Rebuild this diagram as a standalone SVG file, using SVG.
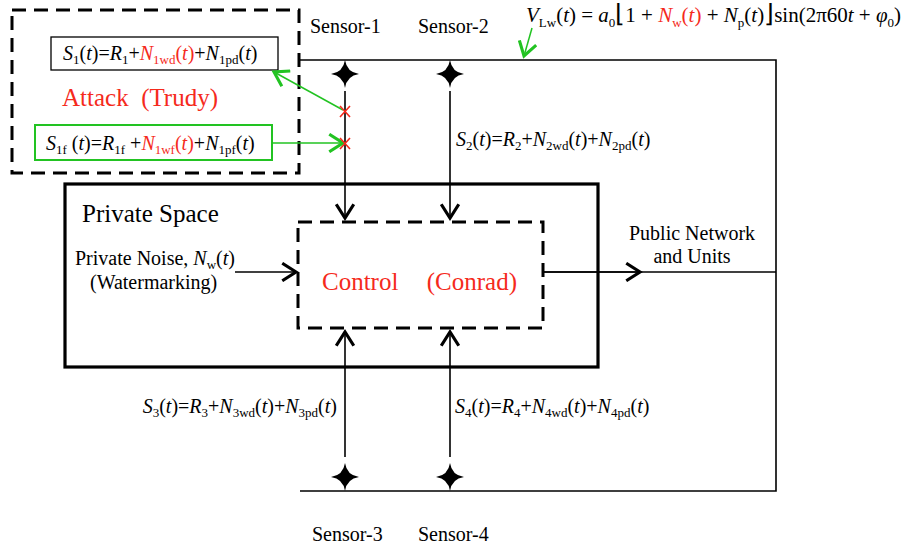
<svg xmlns="http://www.w3.org/2000/svg" width="919" height="552" viewBox="0 0 919 552">
<style>
.t{font-family:"Liberation Serif","Times New Roman",serif;font-size:20px;fill:#000}
.i{font-style:italic}
.r{fill:#f52a1c}
.s{font-size:13px}
.ln{stroke:#000;stroke-width:1.6;fill:none}
.dash{stroke:#000;stroke-width:3;fill:none;stroke-dasharray:14 8}
.g{stroke:#22c322;fill:none}
.x{stroke:#f52a1c;stroke-width:1.6}
.star{fill:#000}
.br{font-size:25px}
</style>
<defs>
<marker id="ah" markerUnits="userSpaceOnUse" markerWidth="20" markerHeight="20" viewBox="-12 -8 14 16" refX="0" refY="0" orient="auto">
<path d="M-11,-7 L0,0 L-11,7" fill="none" stroke="#000" stroke-width="2.5"/>
</marker>
<marker id="gh" markerUnits="userSpaceOnUse" markerWidth="20" markerHeight="20" viewBox="-12 -8 14 16" refX="0" refY="0" orient="auto">
<path d="M-11,-7 L0,0 L-11,7" fill="none" stroke="#22c322" stroke-width="2.5"/>
</marker>
<path id="st" d="M0,-14 Q1.8,-1.8 14,0 Q1.8,1.8 0,14 Q-1.8,1.8 -14,0 Q-1.8,-1.8 0,-14Z"/>
</defs>

<g id="attack">
<rect x="12" y="10" width="287" height="163" class="dash"/>
<text class="t r" x="62" y="106" style="font-size:25px" xml:space="preserve">Attack  (Trudy)</text>
</g>

<g id="s1box">
<rect x="51" y="37" width="227" height="33" fill="none" stroke="#000" stroke-width="1.3"/>
<text class="t" x="63" y="60"><tspan class="i">S</tspan><tspan class="s" dy="4">1</tspan><tspan dy="-4">(</tspan><tspan class="i">t</tspan>)=<tspan class="i">R</tspan><tspan class="s" dy="4">1</tspan><tspan dy="-4">+</tspan><tspan class="i r">N</tspan><tspan class="s r" dy="4">1wd</tspan><tspan class="r" dy="-4">(</tspan><tspan class="i r">t</tspan><tspan class="r">)</tspan>+<tspan class="i">N</tspan><tspan class="s" dy="4">1pd</tspan><tspan dy="-4">(</tspan><tspan class="i">t</tspan>)</text>
</g>

<g id="s1fbox">
<rect x="35" y="125" width="237" height="35" fill="none" stroke="#22c322" stroke-width="2"/>
<text class="t" x="46" y="150"><tspan class="i">S</tspan><tspan class="s" dy="4">1f</tspan><tspan dy="-4"> (</tspan><tspan class="i">t</tspan>)=<tspan class="i">R</tspan><tspan class="s" dy="4">1f</tspan><tspan dy="-4"> +</tspan><tspan class="i r">N</tspan><tspan class="s r" dy="4">1wf</tspan><tspan class="r" dy="-4">(</tspan><tspan class="i r">t</tspan><tspan class="r">)</tspan>+<tspan class="i">N</tspan><tspan class="s" dy="4">1pf</tspan><tspan dy="-4">(</tspan><tspan class="i">t</tspan>)</text>
</g>

<g id="sensor1">
<text class="t" x="310" y="33">Sensor-1</text>
<use href="#st" x="345" y="74" class="star"/>
</g>
<g id="sensor2">
<text class="t" x="418" y="33">Sensor-2</text>
<use href="#st" x="450" y="74" class="star"/>
</g>
<g id="sensor3">
<text class="t" x="312" y="541">Sensor-3</text>
<use href="#st" x="345" y="477" class="star"/>
</g>
<g id="sensor4">
<text class="t" x="418" y="541">Sensor-4</text>
<use href="#st" x="450" y="477" class="star"/>
</g>

<g id="formula">
<text class="t" x="526" y="22" style="font-size:21px"><tspan class="i">V</tspan><tspan class="s" dy="5">Lw</tspan><tspan dy="-5">(</tspan><tspan class="i">t</tspan>) = <tspan class="i">a</tspan><tspan class="s" dy="5">0</tspan><tspan class="br" dy="-5">⌊</tspan><tspan>1 + </tspan><tspan class="i r">N</tspan><tspan class="s r" dy="5">w</tspan><tspan class="r" dy="-5">(</tspan><tspan class="i r">t</tspan><tspan class="r">)</tspan> + <tspan class="i">N</tspan><tspan class="s" dy="5">p</tspan><tspan dy="-5">(</tspan><tspan class="i">t</tspan>)<tspan class="br">⌋</tspan>sin(2π60<tspan class="i">t</tspan> + <tspan class="i">φ</tspan><tspan class="s" dy="5">0</tspan><tspan dy="-5">)</tspan></text>
</g>

<g id="private">
<rect x="65" y="184" width="533" height="183" fill="none" stroke="#000" stroke-width="3.2"/>
<text class="t" x="82" y="222" style="font-size:25px">Private Space</text>
<text class="t" x="75" y="265">Private Noise, <tspan class="i">N</tspan><tspan class="s" dy="4">w</tspan><tspan dy="-4">(</tspan><tspan class="i">t</tspan>)</text>
<text class="t" x="90" y="289">(Watermarking)</text>
</g>

<g id="control">
<rect x="298" y="222" width="245" height="106" class="dash" stroke-dasharray="12 7"/>
<text class="t r" x="322" y="290" style="font-size:25px">Control</text>
<text class="t r" x="517" y="290" text-anchor="end" style="font-size:25px">(Conrad)</text>
</g>

<g id="public">
<text class="t" x="692" y="240" text-anchor="middle">Public Network</text>
<text class="t" x="692" y="263" text-anchor="middle">and Units</text>
</g>

<g id="labels">
<text class="t" x="456" y="146"><tspan class="i">S</tspan><tspan class="s" dy="4">2</tspan><tspan dy="-4">(</tspan><tspan class="i">t</tspan>)=<tspan class="i">R</tspan><tspan class="s" dy="4">2</tspan><tspan dy="-4">+</tspan><tspan class="i">N</tspan><tspan class="s" dy="4">2wd</tspan><tspan dy="-4">(</tspan><tspan class="i">t</tspan>)+<tspan class="i">N</tspan><tspan class="s" dy="4">2pd</tspan><tspan dy="-4">(</tspan><tspan class="i">t</tspan>)</text>
<text class="t" x="337" y="413" text-anchor="end"><tspan class="i">S</tspan><tspan class="s" dy="4">3</tspan><tspan dy="-4">(</tspan><tspan class="i">t</tspan>)=<tspan class="i">R</tspan><tspan class="s" dy="4">3</tspan><tspan dy="-4">+</tspan><tspan class="i">N</tspan><tspan class="s" dy="4">3wd</tspan><tspan dy="-4">(</tspan><tspan class="i">t</tspan>)+<tspan class="i">N</tspan><tspan class="s" dy="4">3pd</tspan><tspan dy="-4">(</tspan><tspan class="i">t</tspan>)</text>
<text class="t" x="455" y="413"><tspan class="i">S</tspan><tspan class="s" dy="4">4</tspan><tspan dy="-4">(</tspan><tspan class="i">t</tspan>)=<tspan class="i">R</tspan><tspan class="s" dy="4">4</tspan><tspan dy="-4">+</tspan><tspan class="i">N</tspan><tspan class="s" dy="4">4wd</tspan><tspan dy="-4">(</tspan><tspan class="i">t</tspan>)+<tspan class="i">N</tspan><tspan class="s" dy="4">4pd</tspan><tspan dy="-4">(</tspan><tspan class="i">t</tspan>)</text>
</g>

<g id="connectors">
<path class="ln" d="M300,60 H776 V491 H300"/>
<path class="ln" d="M543,272 H776"/>
<path class="ln" d="M543,272 H640" marker-end="url(#ah)"/>
<path class="ln" d="M345,91 V218" marker-end="url(#ah)"/>
<path class="ln" d="M450,91 V218" marker-end="url(#ah)"/>
<path class="ln" d="M345,457 V332" marker-end="url(#ah)"/>
<path class="ln" d="M450,457 V332" marker-end="url(#ah)"/>
<path class="ln" d="M235,272 H296" marker-end="url(#ah)"/>
<path class="g" stroke-width="1.5" d="M272,143 H343" marker-end="url(#gh)"/>
<path class="g" stroke-width="1.5" d="M343,110 L274,72" marker-end="url(#gh)"/>
<path class="g" stroke-width="1.5" d="M532,28 L524,56" marker-end="url(#gh)"/>
<path class="x" d="M340,106 L350,117 M350,106 L340,117"/>
<path class="x" d="M340,138 L350,149 M350,138 L340,149"/>
</g>
</svg>
